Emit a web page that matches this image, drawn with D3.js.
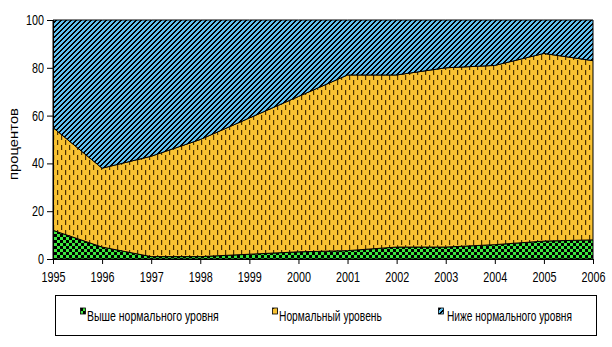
<!DOCTYPE html>
<html>
<head>
<meta charset="utf-8">
<script src="https://cdn.jsdelivr.net/npm/d3@7/dist/d3.min.js"></script>
<style>
  html, body { margin: 0; padding: 0; background: #fff; }
  svg { display: block; }
  text { font-family: "Liberation Sans", Arial, sans-serif; fill: #000; }
</style>
</head>
<body>
<svg id="chart" width="612" height="347"></svg>
<script>
// Years on the x axis
const years = [1995, 1996, 1997, 1998, 1999, 2000, 2001, 2002, 2003, 2004, 2005, 2006];
// Share of samples, percent (stacked, sums to 100)
const aboveNormal = [12, 5, 1, 1, 2, 3, 3.5, 5, 5, 6, 7.5, 8];
const normal      = [43, 33, 42, 49, 57, 65, 73.5, 72, 75, 75, 78.5, 75];
const belowNormal = [45, 62, 57, 50, 41, 32, 23, 23, 20, 19, 14, 17];
const seriesNames = ["Выше нормального уровня", "Нормальный уровень", "Ниже нормального уровня"];
const yTicks = [0, 20, 40, 60, 80, 100];

const svg = d3.select("#chart");
const m = { left: 53, right: 593, top: 20, bottom: 259 };

const x = d3.scaleLinear().domain([years[0], years[years.length - 1]]).range([m.left, m.right]);
const y = d3.scaleLinear().domain([0, 100]).range([m.bottom, m.top]);

// Narrow text: squeeze glyphs to a target width per character
function narrow(sel, perChar) {
  sel.each(function () {
    const t = d3.select(this);
    const n = t.text().length;
    t.attr("textLength", n * perChar).attr("lengthAdjust", "spacingAndGlyphs");
  });
}

// Fill patterns
const defs = svg.append("defs");

const pGreen = defs.append("pattern").attr("id", "pGreen")
  .attr("patternUnits", "userSpaceOnUse").attr("width", 6).attr("height", 6);
pGreen.append("rect").attr("width", 6).attr("height", 6).attr("fill", "#3ee83e");
pGreen.append("rect").attr("x", 0).attr("y", 0).attr("width", 3).attr("height", 3).attr("fill", "#000");
pGreen.append("rect").attr("x", 3).attr("y", 3).attr("width", 3).attr("height", 3).attr("fill", "#000");

const pYellow = defs.append("pattern").attr("id", "pYellow")
  .attr("patternUnits", "userSpaceOnUse").attr("width", 8).attr("height", 10);
pYellow.append("rect").attr("width", 8).attr("height", 10).attr("fill", "#f8c232");
pYellow.append("rect").attr("x", 1).attr("y", 0).attr("width", 1.2).attr("height", 5).attr("fill", "#4a3000");
pYellow.append("rect").attr("x", 5).attr("y", 5).attr("width", 1.2).attr("height", 5).attr("fill", "#4a3000");

// Diagonal "/" hatch built from whole pixels so the stripes stay crisp
const P = 5;
const pBlue = defs.append("pattern").attr("id", "pBlue")
  .attr("patternUnits", "userSpaceOnUse").attr("width", P).attr("height", P);
pBlue.append("rect").attr("width", P).attr("height", P).attr("fill", "#5fc0f2");
for (let j = 0; j < P; j++) {
  for (let i = 0; i < P; i++) {
    if ((i + j) % P < 2) {
      pBlue.append("rect").attr("x", i).attr("y", j).attr("width", 1).attr("height", 1)
        .attr("fill", "#000").attr("shape-rendering", "crispEdges");
    }
  }
}

const fills = ["url(#pGreen)", "url(#pYellow)", "url(#pBlue)"];

// Stack the three series
const rows = years.map((yr, i) => ({ year: yr, a: aboveNormal[i], n: normal[i], b: belowNormal[i] }));
const stack = d3.stack().keys(["a", "n", "b"]);
const layers = stack(rows);

const area = d3.area()
  .x(d => x(d.data.year))
  .y0(d => y(d[0]))
  .y1(d => y(Math.min(100, d[1])));

svg.append("g").selectAll("path").data(layers).join("path")
  .attr("d", area)
  .attr("fill", (d, i) => fills[i])
  .attr("stroke", "#000")
  .attr("stroke-width", 1);

// Axes
const yAxis = d3.axisLeft(y).tickValues(yTicks).tickSize(6).tickPadding(3);
const gy = svg.append("g").attr("transform", `translate(${m.left},0)`).call(yAxis);
gy.selectAll("text").attr("font-size", 14).call(narrow, 6);
gy.select(".domain").attr("stroke", "#000");

const xAxis = d3.axisBottom(x).tickValues(years).tickFormat(d3.format("d")).tickSize(5).tickPadding(8);
const gx = svg.append("g").attr("transform", `translate(0,${m.bottom})`).call(xAxis);
gx.selectAll("text").attr("font-size", 14).call(narrow, 6);
gx.select(".domain").attr("stroke", "#000");

// Axis title
svg.append("text")
  .attr("transform", "translate(18,144) rotate(-90)")
  .attr("text-anchor", "middle")
  .attr("font-size", 12)
  .attr("textLength", 72).attr("lengthAdjust", "spacingAndGlyphs")
  .text("процентов");

// Legend
const lg = svg.append("g");
lg.append("rect").attr("x", 55.5).attr("y", 295.5).attr("width", 541).attr("height", 40)
  .attr("fill", "#fff").attr("stroke", "#000").attr("stroke-width", 1);
const legendX = [80, 272, 438];
const legendW = [132, 103, 125];
seriesNames.forEach((name, i) => {
  const g = lg.append("g").attr("transform", `translate(${legendX[i]},314)`);
  g.append("rect").attr("x", 0.5).attr("y", -6).attr("width", 5).attr("height", 6)
    .attr("fill", fills[i]).attr("stroke", "#000").attr("stroke-width", 0.8);
  // horizontally condensed label: scale the glyphs to the target width
  const t = g.append("text").attr("font-size", 15).text(name);
  const natural = t.node().getComputedTextLength();
  const sx = legendW[i] / natural;
  t.attr("transform", `translate(${i === 2 ? 9 : 7},7) scale(${sx},1)`);
});
</script>
</body>
</html>
